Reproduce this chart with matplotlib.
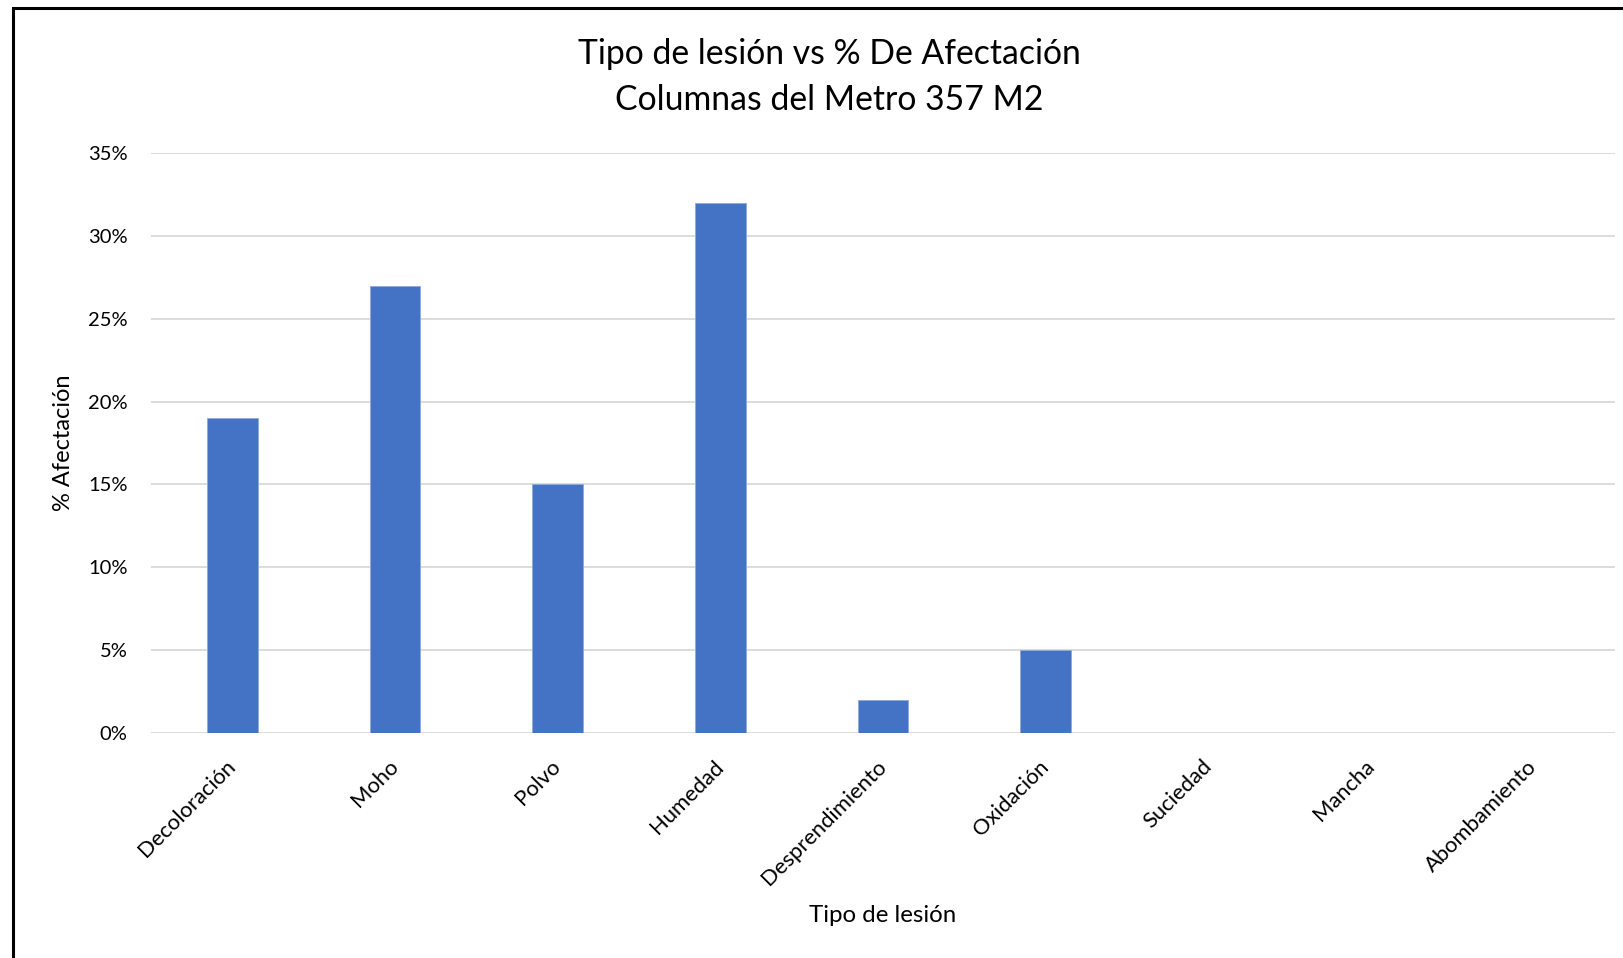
import matplotlib
matplotlib.use("Agg")
import matplotlib.pyplot as plt
from matplotlib.patches import Rectangle
from matplotlib.ticker import PercentFormatter

categories = ["Decoloración", "Moho", "Polvo", "Humedad", "Desprendimiento",
              "Oxidación", "Suciedad", "Mancha", "Abombamiento"]
values = [0.19, 0.27, 0.15, 0.32, 0.02, 0.05, 0.0, 0.0, 0.0]
yticks = [0, 0.05, 0.10, 0.15, 0.20, 0.25, 0.30, 0.35]

plt.rcParams['font.family'] = ['Lato', 'DejaVu Sans']

W, H = 1624, 958
fig = plt.figure(figsize=(W / 100, H / 100), dpi=100)
ax = fig.add_axes([151 / W, 1 - 733 / H, (1615 - 151) / W, (733 - 153) / H])

x = list(range(len(categories)))
ax.bar(x, values, width=0.31, color="#4472C4", edgecolor="#8FAADC", linewidth=0.6, zorder=3)
ax.set_xlim(-0.5, len(categories) - 0.5)
ax.set_ylim(0, 0.35)
ax.set_yticks(yticks)
ax.yaxis.set_major_formatter(PercentFormatter(1.0, decimals=0))
ax.grid(axis="y", color="#D9D9D9", linewidth=1.3, zorder=0)
ax.set_axisbelow(True)
for s in ax.spines.values():
    s.set_visible(False)
ax.tick_params(axis="y", length=0, pad=17, labelsize=14.5, labelcolor="#000000")
ax.tick_params(axis="x", length=0, pad=22, labelsize=15.8)
ax.set_xticks(x)
ax.set_xticklabels(categories, rotation=45, ha="right", va="center", rotation_mode="anchor")

fig.text(883 / W, 1 - 915 / H, "Tipo de lesión", ha="center", va="center", fontsize=17.3)
fig.text(64 / W, 1 - 443 / H, "% Afectación", ha="center", va="center", rotation=90, fontsize=17)
fig.text(829 / W, 1 - 54 / H, "Tipo de lesión vs % De Afectación", ha="center", va="center", fontsize=24.3)
fig.text(829 / W, 1 - 100 / H, "Columnas del Metro 357 M2", ha="center", va="center", fontsize=24.3)

fig.patches.append(Rectangle((13 / W, -0.1), 1.2, 1 - 8 / H + 0.1, transform=fig.transFigure,
                             fill=False, edgecolor="black", linewidth=2.2, zorder=10))

fig.savefig("out.png", dpi=100)
